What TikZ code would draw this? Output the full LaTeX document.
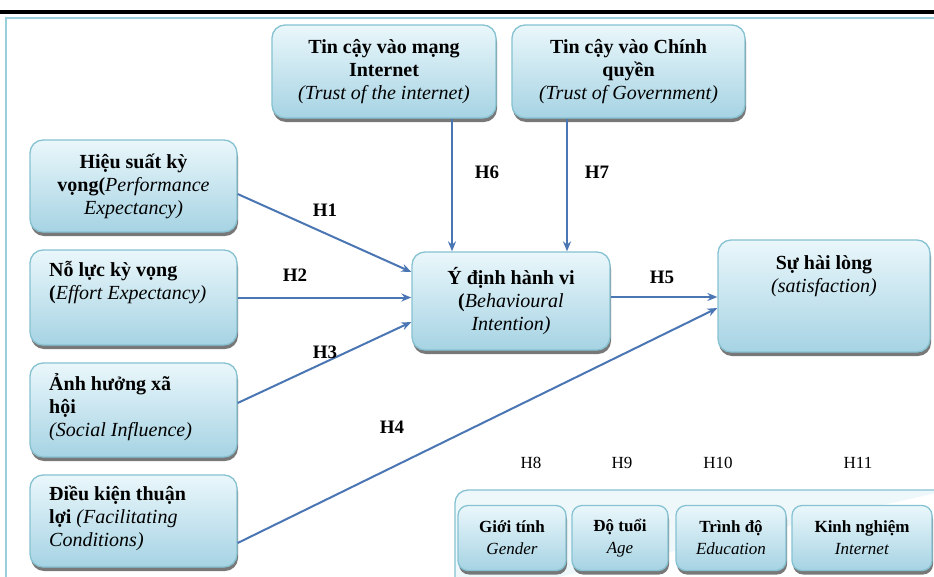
\documentclass[tikz,border=0pt]{standalone}
\usepackage{fontspec}
\setmainfont{Liberation Serif}
\usetikzlibrary{shadows,arrows.meta}
\definecolor{boxedge}{HTML}{86C2D2}
\definecolor{boxtop}{HTML}{EAF7FB}
\definecolor{boxbot}{HTML}{A6D3E3}
\definecolor{arrowc}{HTML}{4A76B4}
\definecolor{framec}{HTML}{9CCFDC}
\definecolor{contfill}{HTML}{EEF8FB}
\tikzset{
  cbox/.style={draw=boxedge, line width=1.3pt, rounded corners=13pt,
    top color=boxtop, bottom color=boxbot, inner sep=0pt,
    drop shadow={shadow xshift=1pt, shadow yshift=-4pt, fill=black!70, opacity=0.75},
    font=\fontsize{20}{23}\selectfont, align=center},
  sbox/.style={cbox, rounded corners=10pt, font=\fontsize{17}{22}\selectfont},
  btxt/.style={font=\fontsize{20}{23}\selectfont, align=left, inner sep=0pt},
  arr/.style={draw=arrowc, line width=2pt, -{Stealth[length=10pt,width=8pt]}},
  hlab/.style={font=\fontsize{19}{20}\selectfont\bfseries, inner sep=0pt},
  mlab/.style={font=\fontsize{17}{20}\selectfont, inner sep=0pt},
}
\begin{document}
\begin{tikzpicture}[x=1pt,y=-1pt]
\useasboundingbox (0,0) rectangle (934,576);
\fill[white] (0,0) rectangle (934,576);
% frame
\draw[framec, line width=2pt] (6,580) -- (6,18) -- (940,18);
\draw[black, line width=3.5pt] (0,12) -- (934,12);
% top boxes
\node[cbox, minimum width=224pt, minimum height=93pt] (ti) at (384,71.5)
  {\textbf{Tin cậy vào mạng}\\\textbf{Internet}\\\textit{(Trust of the internet)}};
\node[cbox, minimum width=233pt, minimum height=93pt] (tg) at (628.5,71.5)
  {\textbf{Tin cậy vào Chính}\\\textbf{quyền}\\\textit{(Trust of Government)}};
% left boxes
\node[cbox, minimum width=207pt, minimum height=92pt] (pe) at (133.5,186)
  {\textbf{Hiệu suất kỳ}\\\textbf{vọng(}\textit{Performance}\\\textit{Expectancy)}};
\node[cbox, minimum width=207pt, minimum height=95pt] (ee) at (133.5,297.5) {};
\node[btxt, anchor=west] (eet) at (49,283)
  {\textbf{Nỗ lực kỳ vọng}\\\textbf{(}\textit{Effort Expectancy)}};
\node[cbox, minimum width=207pt, minimum height=94pt] (si) at (133.5,410) {};
\node[btxt, anchor=west] (sit) at (49,407)
  {\textbf{Ảnh hưởng xã}\\\textbf{hội}\\\textit{(Social Influence)}};
\node[cbox, minimum width=207pt, minimum height=92pt] (fc) at (133.5,521) {};
\node[btxt, anchor=west] (fct) at (49,518)
  {\textbf{Điều kiện thuận}\\\textbf{lợi} \textit{(Facilitating}\\\textit{Conditions)}};
% centre
\node[cbox, minimum width=198pt, minimum height=98pt] (bi) at (511,301)
  {\textbf{Ý định hành vi}\\\textbf{(}\textit{Behavioural}\\\textit{Intention)}};
\node[cbox, minimum width=212pt, minimum height=112pt] (sa) at (824,296) {};
\node[btxt, align=center] (sat) at (824,276)
  {\textbf{Sự hài lòng}\\\textit{(satisfaction)}};
% bottom container
\draw[draw=boxedge, line width=1.3pt, rounded corners=13pt, fill=contfill] (455,600) -- (455,490) -- (950,490);
\node[sbox, minimum width=108pt, minimum height=65pt] (g1) at (512,538)
  {\textbf{Giới tính}\\\textit{Gender}};
\node[sbox, minimum width=96pt, minimum height=65pt] (g2) at (620,538)
  {\textbf{Độ tuổi}\\\textit{Age}};
\node[sbox, minimum width=110pt, minimum height=65pt] (g3) at (731,538)
  {\textbf{Trình độ}\\\textit{Education}};
\node[sbox, minimum width=140pt, minimum height=65pt] (g4) at (862,538)
  {\textbf{Kinh nghiệm}\\\textit{Internet}};
% connectors
\coordinate (c6) at (452,0);
\coordinate (c7) at (567,0);
\draw[arr] (ti.south -| c6) -- (bi.north -| c6);
\draw[arr] (tg.south -| c7) -- (bi.north -| c7);
\draw[arr] ([yshift=-8pt]pe.east) -- ([yshift=29pt]bi.west);
\draw[arr] (ee.east) -- (ee.east -| bi.west);
\draw[arr] ([yshift=7pt]si.east) -- ([yshift=-21pt]bi.west);
\draw[arr] ([yshift=-22pt]fc.east) -- ([yshift=-12pt]sa.west);
\draw[arr] ([yshift=4pt]bi.east) -- ([yshift=4pt]bi.east -| sa.west);
% labels
\node[hlab] (h1) at (325,210) {H1};
\node[hlab] (h2) at (295,275) {H2};
\node[hlab] (h3) at (325,352) {H3};
\node[hlab] (h4) at (392,427) {H4};
\node[hlab] (h5) at (662,277) {H5};
\node[hlab] (h6) at (487,172) {H6};
\node[hlab] (h7) at (597,172) {H7};
\node[mlab] (h8) at (531,463) {H8};
\node[mlab] (h9) at (622,463) {H9};
\node[mlab] (h10) at (718,463) {H10};
\node[mlab] (h11) at (858,463) {H11};
\end{tikzpicture}
\end{document}
